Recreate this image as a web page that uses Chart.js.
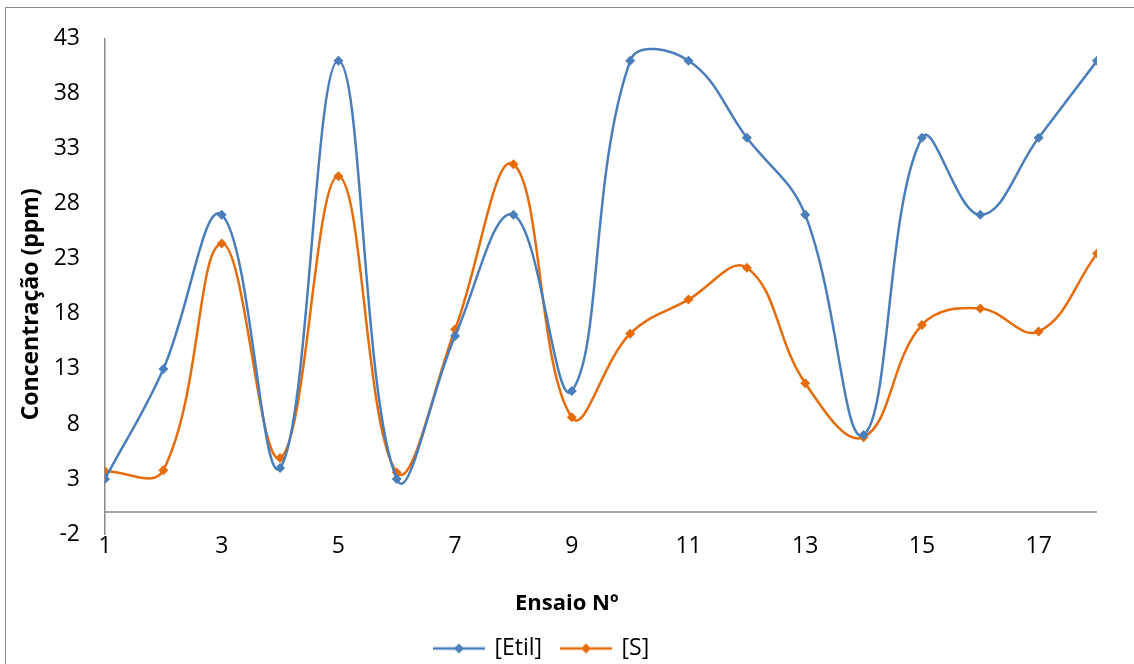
<!DOCTYPE html>
<html>
<head>
<meta charset="utf-8">
<script src="https://cdn.jsdelivr.net/npm/chart.js@4/dist/chart.umd.min.js"></script>
<style>
  html, body { margin: 0; padding: 0; background: #fff; }
  #wrap { position: relative; width: 1134px; height: 664px; overflow: hidden; }
  #frame { position: absolute; left: 5px; top: 7px; right: -10px; bottom: -10px;
           border-left: 1.5px solid #8a8a8a; border-top: 1.5px solid #8a8a8a; }
  canvas { position: absolute; left: 0; top: 0; }
</style>
</head>
<body>
<div id="wrap">
  <div id="frame"></div>
  <canvas id="my-canvas" width="1134" height="664"></canvas>
</div>
<script>
// ensaios 1..18
const ensaios = [1, 2, 3, 4, 5, 6, 7, 8, 9, 10, 11, 12, 13, 14, 15, 16, 17, 18];
const etil = [3, 13, 27, 4, 41, 3, 16, 27, 11, 41, 41, 34, 27, 7, 34, 27, 34, 41];
const sConc = [3.7, 3.8, 24.4, 4.9, 30.5, 3.6, 16.6, 31.6, 8.6, 16.2, 19.3, 22.2, 11.7, 6.8, 17.0, 18.5, 16.4, 23.5];

const xTicks = [1, 3, 5, 7, 9, 11, 13, 15, 17];
const yTicks = [-2, 3, 8, 13, 18, 23, 28, 33, 38, 43];

const BLUE = '#4a7ebb';
const ORANGE = '#e46c0a';
const FONT = "'Open Sans', sans-serif";
const NB = '\u00a0';

// legend icon: short line with a diamond in the middle
function legendIcon(color) {
  const c = document.createElement('canvas');
  c.width = 52; c.height = 14;
  const g = c.getContext('2d');
  g.strokeStyle = color;
  g.lineWidth = 2.5;
  g.beginPath(); g.moveTo(0, 7); g.lineTo(52, 7); g.stroke();
  g.fillStyle = color;
  g.beginPath(); g.moveTo(26, 2); g.lineTo(31, 7); g.lineTo(26, 12); g.lineTo(21, 7); g.closePath(); g.fill();
  return c;
}

// grey line at y = 0 (category axis crossing)
const zeroLine = {
  id: 'zeroLine',
  beforeDatasetsDraw(chart) {
    const {ctx, chartArea, scales} = chart;
    const y0 = scales.y.getPixelForValue(0);
    ctx.save();
    ctx.strokeStyle = '#8a8a8a';
    ctx.lineWidth = 1.5;
    ctx.beginPath();
    ctx.moveTo(chartArea.left, y0);
    ctx.lineTo(chartArea.right, y0);
    ctx.stroke();
    ctx.restore();
  }
};

const ctx = document.getElementById('my-canvas').getContext('2d');
const chart = new Chart(ctx, {
  type: 'line',
  data: {
    datasets: [
      {
        label: '[Etil]',
        data: ensaios.map((x, i) => ({x: x, y: etil[i]})),
        borderColor: BLUE,
        backgroundColor: BLUE,
        borderWidth: 2.5,
        pointStyle: 'rectRot',
        pointRadius: 5,
        pointBorderWidth: 0,
        tension: 0.4
      },
      {
        label: '[S]',
        data: ensaios.map((x, i) => ({x: x, y: sConc[i]})),
        borderColor: ORANGE,
        backgroundColor: ORANGE,
        borderWidth: 2.5,
        pointStyle: 'rectRot',
        pointRadius: 5,
        pointBorderWidth: 0,
        tension: 0.4
      }
    ]
  },
  options: {
    responsive: false,
    animation: false,
    layout: { padding: { left: 5, top: 37, right: 37, bottom: -6 } },
    elements: { line: { capBezierPoints: false } },
    plugins: {
      tooltip: { enabled: false },
      legend: {
        position: 'bottom',
        labels: {
          usePointStyle: true,
          pointStyleWidth: 48,
          padding: 20,
          color: '#000',
          font: { family: FONT, size: 23 },
          generateLabels(chart) {
            const n = chart.data.datasets.length;
            return chart.data.datasets.map((ds, i) => ({
              // a little trailing space on the last item nudges the row left
              text: ds.label + (i === n - 1 ? NB + NB + NB : ''),
              pointStyle: legendIcon(ds.borderColor),
              fillStyle: ds.borderColor,
              strokeStyle: ds.borderColor,
              lineWidth: 0,
              datasetIndex: i,
              fontColor: '#000'
            }));
          }
        }
      }
    },
    scales: {
      x: {
        type: 'linear',
        min: 1,
        max: 18,
        afterBuildTicks(scale) { scale.ticks = xTicks.map(v => ({value: v})); },
        afterFit(scale) { scale.height = 83; },
        grid: { display: false, drawTicks: false, tickLength: 0 },
        border: { display: false },
        ticks: { color: '#000', padding: -1, maxRotation: 0, autoSkip: false, font: { family: FONT, size: 23 } },
        title: {
          display: true,
          // trailing spaces move the centred title left, as in the original
          text: 'Ensaio Nº' + NB.repeat(12),
          color: '#000',
          padding: { top: 0, bottom: 0 },
          font: { family: FONT, size: 22, weight: 'bold' }
        }
      },
      y: {
        min: -2,
        max: 43,
        afterBuildTicks(scale) { scale.ticks = yTicks.map(v => ({value: v})); },
        afterFit(scale) { scale.width = 100; },
        grid: { display: false, drawTicks: false, tickLength: 0 },
        border: { display: true, color: '#8a8a8a', width: 1.5 },
        ticks: { color: '#000', padding: 25, autoSkip: false, font: { family: FONT, size: 23 } },
        title: {
          display: true,
          // trailing spaces shift the centred title down like the original
          text: 'Concentração (ppm)' + NB.repeat(6),
          color: '#000',
          padding: { top: 13, bottom: 0 },
          font: { family: FONT, size: 23, weight: 'bold' }
        }
      }
    }
  },
  plugins: [zeroLine]
});
</script>
</body>
</html>
